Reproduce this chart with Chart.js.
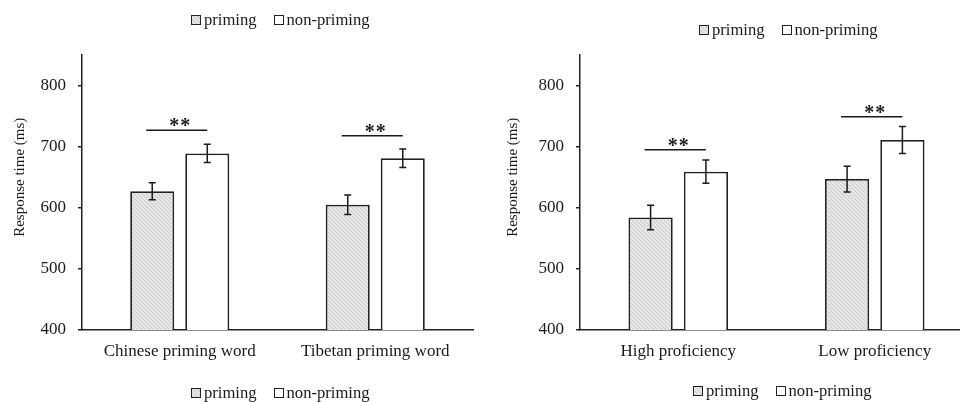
<!DOCTYPE html>
<html>
<head>
<meta charset="utf-8">
<script src="https://cdn.jsdelivr.net/npm/chart.js@4"></script>
<style>
  html, body { margin: 0; padding: 0; background: #fff; }
  body { width: 960px; height: 402px; overflow: hidden; position: relative; font-family: 'Liberation Serif', 'Times New Roman', serif; color: #1a1a1a; }
  .panel { position: absolute; top: 0; height: 402px; }
  #panelA { left: 0; width: 480px; }
  #panelB { left: 480px; width: 510px; }
  .legend { position: absolute; display: flex; align-items: center; height: 18px; font-size: 16.6px; white-space: nowrap; }
  .legend .item { display: flex; align-items: center; margin-right: 17px; }
  .legend .box { width: 10px; height: 10px; box-sizing: border-box; border: 1.5px solid #222; margin-right: 3px; background: #fff; }
  .legend .box.hatch { background: repeating-linear-gradient(45deg, #cccccc 0 1px, #e6e6e6 1px 3px); }
</style>
</head>
<body>
<div class="panel" id="panelA"><canvas id="chartA"></canvas></div>
<div class="panel" id="panelB"><canvas id="chartB"></canvas></div>

<div class="legend" style="left:191px; top:11px;"><span class="item"><span class="box hatch"></span>priming</span><span class="item"><span class="box"></span>non-priming</span></div>
<div class="legend" style="left:191px; top:384px;"><span class="item"><span class="box hatch"></span>priming</span><span class="item"><span class="box"></span>non-priming</span></div>
<div class="legend" style="left:699px; top:21px;"><span class="item"><span class="box hatch"></span>priming</span><span class="item"><span class="box"></span>non-priming</span></div>
<div class="legend" style="left:693px; top:382px;"><span class="item"><span class="box hatch"></span>priming</span><span class="item"><span class="box"></span>non-priming</span></div>

<script>
// 左图: 启动词语言
const categoriesA = ['Chinese priming word', 'Tibetan priming word'];
const primingA = [627, 605];
const nonPrimingA = [689, 681];
const primingErrA = [14, 16];
const nonPrimingErrA = [15, 15];
const sigA = [727, 718];

// 右图: 熟练度
const categoriesB = ['High proficiency', 'Low proficiency'];
const primingB = [584, 647];
const nonPrimingB = [659, 711];
const primingErrB = [20, 21];
const nonPrimingErrB = [19, 22];
const sigB = [695, 749];

const yTicks = [400, 500, 600, 700, 800];
const yMin = 400;
const yMax = 850;
const yTitle = 'Response time (ms)';

const FONT = "'Liberation Serif', 'Times New Roman', serif";
const INK = '#1a1a1a';

function makeHatch() {
  const c = document.createElement('canvas');
  c.width = 4; c.height = 4;
  const g = c.getContext('2d');
  g.fillStyle = '#e6e6e6';
  g.fillRect(0, 0, 4, 4);
  g.strokeStyle = '#cacaca';
  g.lineWidth = 1;
  g.beginPath();
  g.moveTo(0, 0); g.lineTo(4, 4);
  g.stroke();
  return g.createPattern(c, 'repeat');
}

// 误差线 + 显著性标记 + 纵轴标题
const annotations = {
  id: 'annotations',
  afterDatasetsDraw(chart, args, opts) {
    const ctx = chart.ctx;
    const y = chart.scales.y;
    ctx.save();
    ctx.strokeStyle = INK;
    ctx.lineWidth = 1.5;
    chart.data.datasets.forEach((ds, di) => {
      const meta = chart.getDatasetMeta(di);
      meta.data.forEach((bar, i) => {
        const v = ds.data[i], e = ds.errors[i];
        const top = y.getPixelForValue(v + e);
        const bot = y.getPixelForValue(v - e);
        ctx.beginPath();
        ctx.moveTo(bar.x, top); ctx.lineTo(bar.x, bot);
        ctx.moveTo(bar.x - 3.5, top); ctx.lineTo(bar.x + 3.5, top);
        ctx.moveTo(bar.x - 3.5, bot); ctx.lineTo(bar.x + 3.5, bot);
        ctx.stroke();
      });
    });

    // ** 显著性
    const m0 = chart.getDatasetMeta(0), m1 = chart.getDatasetMeta(1);
    opts.sig.forEach((level, i) => {
      const x1 = m0.data[i].x - 6, x2 = m1.data[i].x;
      const ly = y.getPixelForValue(level);
      ctx.beginPath();
      ctx.moveTo(x1, ly); ctx.lineTo(x2, ly);
      ctx.stroke();
      ctx.fillStyle = INK;
      ctx.font = 'bold 20px ' + FONT;
      ctx.textAlign = 'center';
      ctx.textBaseline = 'alphabetic';
      const cx = (x1 + x2) / 2 + 3;
      ctx.fillText('*', cx - 5.5, ly + 2);
      ctx.fillText('*', cx + 5.5, ly + 2);
    });

    // 纵轴标题
    ctx.translate(chart.chartArea.left - opts.titleOffset, y.getPixelForValue(650));
    ctx.rotate(-Math.PI / 2);
    ctx.fillStyle = INK;
    ctx.font = '15px ' + FONT;
    ctx.textAlign = 'center';
    ctx.textBaseline = 'middle';
    ctx.fillText(yTitle, 0, 0);
    ctx.restore();
  }
};

function renderPanel(id, labels, priming, nonPriming, primingErr, nonPrimingErr, sig, pad, titleOffset) {
  const ctx = document.getElementById(id);
  return new Chart(ctx, {
    type: 'bar',
    data: {
      labels: labels,
      datasets: [{
        label: 'priming',
        data: priming,
        errors: primingErr,
        backgroundColor: makeHatch(),
        borderColor: '#222',
        borderWidth: 1.8,
        categoryPercentage: 0.563,
        barPercentage: 0.8,
      }, {
        label: 'non-priming',
        data: nonPriming,
        errors: nonPrimingErr,
        backgroundColor: '#ffffff',
        borderColor: '#222',
        borderWidth: 1.8,
        categoryPercentage: 0.563,
        barPercentage: 0.8,
      }]
    },
    options: {
      responsive: true,
      maintainAspectRatio: false,
      animation: false,
      layout: {
        padding: { left: pad.left, right: pad.right, top: 55, bottom: 0 }
      },
      plugins: {
        legend: { display: false },
        tooltip: { enabled: false },
        annotations: { sig: sig, titleOffset: titleOffset }
      },
      scales: {
        x: {
          grid: { display: false, drawTicks: false },
          border: { color: '#222', width: 1.5 },
          ticks: {
            color: INK,
            padding: 11,
            font: { family: FONT, size: 17 }
          },
          afterFit: s => { s.height = 72; }
        },
        y: {
          min: yMin,
          max: yMax,
          afterBuildTicks: s => { s.ticks = yTicks.map(v => ({ value: v })); },
          grid: { drawOnChartArea: false, color: '#222', tickLength: 4, lineWidth: 1.5 },
          border: { color: '#222', width: 1.5 },
          ticks: {
            color: INK,
            padding: 12,
            font: { family: FONT, size: 17 }
          },
          afterFit: s => { s.width = 82; }
        }
      }
    },
    plugins: [annotations]
  });
}

renderPanel('chartA', categoriesA, primingA, nonPrimingA, primingErrA, nonPrimingErrA, sigA, { left: 0, right: 7 }, 62);
renderPanel('chartB', categoriesB, primingB, nonPrimingB, primingErrB, nonPrimingErrB, sigB, { left: 18, right: 17 }, 67);
</script>
</body>
</html>
